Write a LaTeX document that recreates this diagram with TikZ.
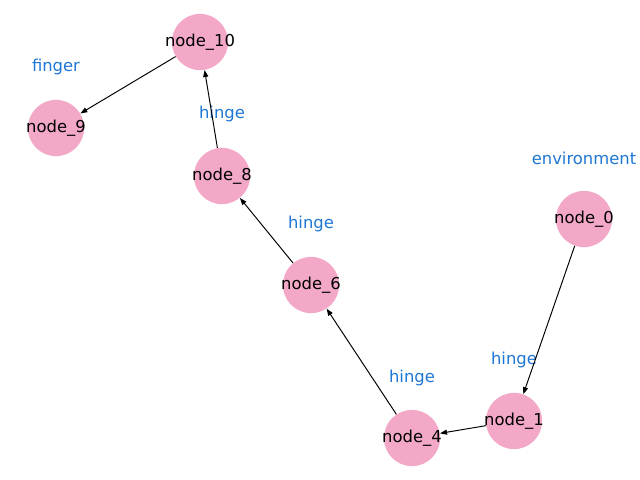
\documentclass[tikz,border=0pt]{standalone}
\usepackage{fontspec}
\setmainfont{DejaVu Sans}
\usepackage{xcolor}
\usepackage{tikz}
\usetikzlibrary{arrows.meta}
\definecolor{partpink}{RGB}{243,168,200}
\definecolor{kindblue}{RGB}{31,119,212}
\newcommand{\partlabel}[1]{\makebox[0pt]{#1}}

\begin{document}
\begin{tikzpicture}[x=0.72pt,y=-0.72pt,
 part/.style={circle, fill=partpink, minimum size=40.5pt, inner sep=0pt, font=\fontsize{11.8}{14}\selectfont},
 kind/.style={text=kindblue, inner sep=0pt, font=\fontsize{11.8}{14}\selectfont},
 link/.style={-{Triangle[length=5pt,width=3.6pt]}, line width=0.7pt}]
\useasboundingbox (0,0) rectangle (640,480);
% parts
\node[part] (n0) at (584,219) {\partlabel{node\_0}};
\node[part] (n1) at (514,421) {\partlabel{node\_1}};
\node[part] (n4) at (412,438) {\partlabel{node\_4}};
\node[part] (n6) at (311,285) {\partlabel{node\_6}};
\node[part] (n8) at (222,176) {\partlabel{node\_8}};
\node[part] (n9) at (56,128) {\partlabel{node\_9}};
\node[part] (n10) at (200,42) {\partlabel{node\_10}};
% kinds
\node[kind] (k0) at (584,158) {environment};
\node[kind] (k1) at (514,360) {hinge};
\node[kind] (k4) at (412,378) {hinge};
\node[kind] (k6) at (311,224) {hinge};
\node[kind] (k8) at (222,114) {hinge};
\node[kind] (k9) at (56,67) {finger};
% links
\draw[link] (n0) -- (n1);
\draw[link] (n1) -- (n4);
\draw[link] (n4) -- (n6);
\draw[link] (n6) -- (n8);
\draw[link] (n8) -- (n10);
\draw[link] (n10) -- (n9);
\end{tikzpicture}
\end{document}
